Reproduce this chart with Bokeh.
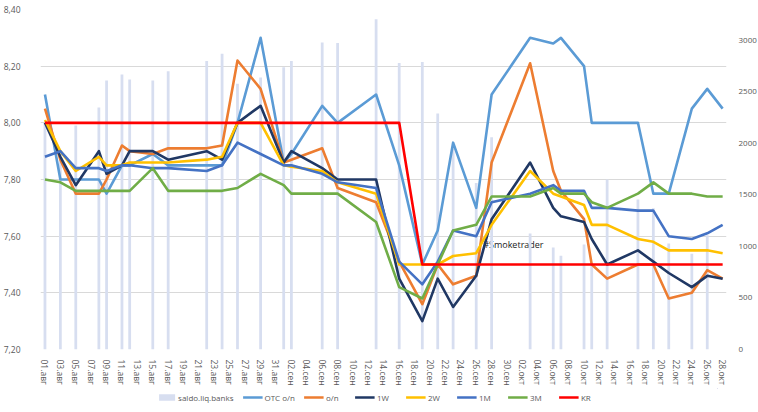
import pandas as pd
from bokeh.plotting import figure
from bokeh.layouts import column
from bokeh.models import (Range1d, LinearAxis, FixedTicker, CustomJSTickFormatter,
                          Legend, LegendItem, Label)
from bokeh.embed import file_html
from bokeh.resources import INLINE

# ---------------- data ----------------
dates = ["2016-08-01", "2016-08-03", "2016-08-05", "2016-08-08", "2016-08-09", "2016-08-11",
         "2016-08-12", "2016-08-15", "2016-08-17", "2016-08-22", "2016-08-24", "2016-08-26",
         "2016-08-29", "2016-09-01", "2016-09-02", "2016-09-06", "2016-09-08", "2016-09-13",
         "2016-09-16", "2016-09-19", "2016-09-21", "2016-09-23", "2016-09-26", "2016-09-28",
         "2016-10-03", "2016-10-06", "2016-10-07", "2016-10-10", "2016-10-11", "2016-10-13",
         "2016-10-17", "2016-10-19", "2016-10-21", "2016-10-24", "2016-10-26", "2016-10-28"]

saldo = [2200, 1900, 2175, 2350, 2610, 2670, 2620, 2610, 2700, 2800, 2870, 2580,
         2640, 2740, 2800, 2980, 2975, 3205, 2780, 2790, 2290, 1950, 1615, 2060,
         1125, 990, 910, 1020, 840, 1650, 1455, 1370, 1030, 930, 1110, 0]

otc_on = [8.10, 7.80, 7.80, 7.80, 7.75, 7.85, 7.85, 7.89, 7.85, 7.85, 7.85, 8.00,
          8.30, 7.86, 7.89, 8.06, 8.00, 8.10, 7.85, 7.50, 7.62, 7.93, 7.70, 8.10,
          8.30, 8.28, 8.30, 8.20, 8.00, 8.00, 8.00, 7.75, 7.75, 8.05, 8.12, 8.05]

on = [8.05, 7.87, 7.75, 7.75, 7.80, 7.92, 7.90, 7.89, 7.91, 7.91, 7.92, 8.22,
      8.12, 7.86, 7.87, 7.91, 7.77, 7.72, 7.51, 7.36, 7.50, 7.43, 7.46, 7.86,
      8.21, 7.83, 7.76, 7.66, 7.50, 7.45, 7.50, 7.50, 7.38, 7.40, 7.48, 7.45]

w1 = [8.00, 7.88, 7.78, 7.90, 7.82, 7.85, 7.90, 7.90, 7.87, 7.90, 7.87, 8.00,
      8.06, 7.86, 7.90, 7.84, 7.80, 7.80, 7.45, 7.30, 7.45, 7.35, 7.46, 7.66,
      7.86, 7.70, 7.67, 7.65, 7.59, 7.50, 7.55, 7.51, 7.47, 7.42, 7.46, 7.45]

w2 = [8.01, 7.90, 7.83, 7.88, 7.85, 7.85, 7.86, 7.86, 7.86, 7.87, 7.88, 8.00,
      8.00, 7.85, 7.845, 7.83, 7.79, 7.75, 7.50, 7.50, 7.50, 7.53, 7.54, 7.64,
      7.83, 7.75, 7.74, 7.71, 7.64, 7.64, 7.59, 7.58, 7.55, 7.55, 7.55, 7.54]

m1 = [7.88, 7.90, 7.84, 7.84, 7.83, 7.85, 7.85, 7.84, 7.84, 7.83, 7.85, 7.93,
      7.89, 7.85, 7.85, 7.82, 7.79, 7.77, 7.51, 7.43, 7.51, 7.62, 7.60, 7.72,
      7.75, 7.78, 7.76, 7.76, 7.70, 7.70, 7.69, 7.69, 7.60, 7.59, 7.61, 7.64]

m3 = [7.80, 7.79, 7.76, 7.76, 7.76, 7.76, 7.76, 7.84, 7.76, 7.76, 7.76, 7.77,
      7.82, 7.78, 7.75, 7.75, 7.75, 7.65, 7.42, 7.38, 7.50, 7.62, 7.64, 7.74,
      7.74, 7.77, 7.75, 7.75, 7.72, 7.70, 7.75, 7.79, 7.75, 7.75, 7.74, 7.74]

kr = [8.00] * 19 + [7.50] * 17

left_ticks = [7.2, 7.4, 7.6, 7.8, 8.0, 8.2, 8.4]
right_ticks = [0, 500, 1000, 1500, 2000, 2500, 3000]
ru_months = {8: "авг", 9: "сен", 10: "окт"}

start = pd.Timestamp("2016-08-01")
day = [(pd.Timestamp(d) - start).days for d in dates]
tick_days = list(range(0, 89, 2))
tick_dates = [start + pd.Timedelta(days=t) for t in tick_days]
tick_labels = [f"{d.day:02d}.{ru_months[d.month]}" for d in tick_dates]

FONT = "Open Sans"
TXT = "#595959"
BAR_COLOR = "#d7def0"
series = [("OTC o/n", otc_on, "#5B9BD5"), ("o/n", on, "#ED7D31"), ("1W", w1, "#203864"),
          ("2W", w2, "#FFC000"), ("1M", m1, "#4472C4"), ("3M", m3, "#70AD47"),
          ("KR", kr, "#FF0000")]

p = figure(frame_width=686, frame_height=340, output_backend="svg", toolbar_location=None,
           x_range=Range1d(-0.58, 88.5), y_range=Range1d(7.2, 8.4),
           min_border_left=38, min_border_top=9, min_border_right=26, min_border_bottom=39)
p.title = None
p.extra_y_ranges = {"right": Range1d(0, 3300)}
p.outline_line_color = None
p.xgrid.grid_line_color = None
p.ygrid.grid_line_color = "#d9d9d9"
p.ygrid.grid_line_width = 1

# left axis
ya = p.yaxis[0]
ya.ticker = FixedTicker(ticks=left_ticks)
ya.formatter = CustomJSTickFormatter(code="return tick.toFixed(2).replace('.', ',');")
ya.axis_line_color = None
ya.major_tick_line_color = None
ya.minor_tick_line_color = None
ya.major_label_standoff = 14
ya.major_label_text_font = FONT
ya.major_label_text_font_size = "8.5px"
ya.major_label_text_color = TXT

# x axis
xa = p.xaxis[0]
xa.ticker = FixedTicker(ticks=tick_days)
xa.formatter = CustomJSTickFormatter(args=dict(labels=tick_labels),
                                     code="return labels[Math.round(tick / 2)] || '';")
xa.major_label_orientation = "vertical"
xa.axis_line_color = None
xa.major_tick_line_color = None
xa.minor_tick_line_color = None
xa.major_label_standoff = 4
xa.major_label_text_font = FONT
xa.major_label_text_font_size = "8.5px"
xa.major_label_text_color = TXT

# right axis
ra = LinearAxis(y_range_name="right", ticker=FixedTicker(ticks=right_ticks))
ra.axis_line_color = None
ra.major_tick_line_color = None
ra.minor_tick_line_color = None
ra.major_label_standoff = 6
ra.major_label_text_font = FONT
ra.major_label_text_font_size = "8px"
ra.major_label_text_color = TXT
p.add_layout(ra, "right")

# bars (right axis)
p.vbar(x=day, top=saldo, width=0.36, bottom=0, y_range_name="right",
       fill_color=BAR_COLOR, line_color=None)

for name, vals, col in series:
    p.line(day, vals, line_color=col, line_width=2.6, line_join="round")

lab = Label(x=56.9, y=7.572, text="#Smoketrader", text_font=FONT, text_font_size="9px",
            text_color="#1a1a1a", text_baseline="middle", level="underlay")
p.add_layout(lab)

# ---- legend strip below the chart (same series, drawn out of view; only the legend shows) ----
lg = figure(width=750, height=18, output_backend="svg", toolbar_location=None,
            x_range=Range1d(-1000, -999), y_range=Range1d(-1000, -999),
            min_border_left=0, min_border_right=0, min_border_top=0, min_border_bottom=0)
lg.title = None
lg.axis.visible = False
lg.grid.visible = False
lg.outline_line_color = None

items = [LegendItem(label="saldo.liq.banks",
                    renderers=[lg.vbar(x=day, top=saldo, width=0.36, fill_color=BAR_COLOR,
                                       line_color=None)])]
for name, vals, col in series:
    r = lg.line(day, vals, line_color=col, line_width=2.6)
    items.append(LegendItem(label=name, renderers=[r]))

legend = Legend(items=items, orientation="horizontal", location="center",
                spacing=9, padding=0, margin=0, glyph_width=20, glyph_height=8,
                label_standoff=2, label_height=12, label_text_font=FONT,
                label_text_font_size="8px", label_text_color=TXT,
                border_line_color=None, background_fill_alpha=0)
lg.add_layout(legend)

open("out.html", "w").write(file_html(column(p, lg), INLINE))
